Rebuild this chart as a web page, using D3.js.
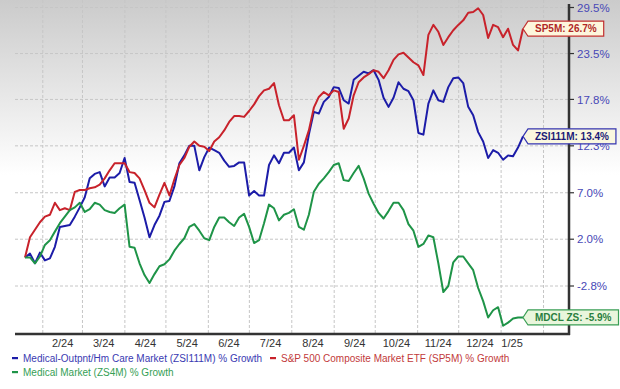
<!DOCTYPE html>
<html>
<head>
<meta charset="utf-8">
<script src="https://cdn.jsdelivr.net/npm/d3@7"></script>
<style>
  body { margin: 0; background: #fff; }
  svg { display: block; }
  text { font-family: Arial, "Liberation Sans", sans-serif; }
</style>
</head>
<body>
<svg id="chart" width="620" height="389"></svg>
<script>
// % growth, sampled evenly from 2024-01-19 to 2025-01-17
const sp5m = [0.1, 2.2, 3.0, 3.8, 4.4, 4.6, 5.9, 5.1, 5.3, 5.1,
  7.1, 7.3, 7.3, 7.5, 7.6, 7.9, 8.6, 9.5, 10.3, 10.3,
  10.3, 9.3, 9.2, 8.6, 7.3, 5.9, 5.4, 6.8, 8.1, 6.7,
  8.5, 10.1, 10.9, 12.2, 12.8, 12.3, 12.2, 11.7, 12.8, 13.3,
  14.1, 15.1, 15.8, 15.8, 15.7, 16.4, 17.2, 18.2, 18.9, 19.1,
  19.8, 17.1, 15.3, 15.3, 15.9, 10.7, 12.3, 14.1, 16.8, 18.1,
  18.7, 18.3, 18.9, 18.7, 14.3, 15.5, 18.3, 19.9, 20.5, 20.9,
  21.4, 21.2, 20.4, 21.4, 22.7, 23.4, 23.6, 23.0, 22.4, 22.0,
  20.8, 25.9, 27.2, 26.3, 24.6, 25.6, 26.5, 27.2, 27.8, 28.8,
  28.9, 29.4, 28.5, 25.5, 27.2, 26.9, 25.6, 26.7, 24.6, 23.9, 26.7];

const zsi111m = [0.1, 0.5, -0.5, 0.6, -0.2, 0.0, 1.2, 3.3, 3.4, 3.5,
  4.4, 5.4, 6.5, 8.6, 9.1, 9.3, 7.7, 8.7, 8.7, 9.2,
  10.9, 8.2, 8.1, 6.2, 4.3, 2.2, 3.5, 4.5, 6.0, 6.1,
  7.7, 10.3, 11.2, 12.3, 12.3, 9.5, 11.0, 12.1, 11.8, 11.5,
  10.6, 9.9, 10.0, 10.4, 10.4, 6.7, 7.2, 6.7, 6.7, 10.1,
  11.2, 10.3, 11.5, 11.5, 12.1, 9.5, 10.4, 13.6, 16.3, 16.1,
  17.5, 18.1, 19.3, 19.2, 17.7, 17.3, 20.2, 20.7, 21.2, 21.0,
  21.4, 20.2, 18.0, 16.9, 18.0, 19.9, 19.1, 18.8, 17.7, 13.8,
  13.6, 17.3, 18.9, 17.7, 17.5, 19.3, 20.4, 20.5, 19.8, 16.9,
  15.9, 13.9, 12.8, 10.9, 11.8, 11.5, 10.7, 11.2, 11.1, 12.1, 13.4];

const zs4m = [0.1, 0.1, -0.5, 0.2, 1.4, 1.9, 2.8, 3.7, 4.4, 5.1,
  5.4, 5.9, 4.9, 5.2, 5.9, 5.7, 5.1, 4.9, 4.8, 5.3,
  5.7, 1.2, 1.1, -0.5, -1.7, -2.5, -1.6, -0.8, -0.6, -0.1,
  0.8, 1.5, 2.1, 3.3, 3.6, 2.9, 2.1, 1.9, 3.3, 4.3,
  4.3, 3.8, 3.4, 4.3, 4.7, 3.3, 1.6, 1.9, 3.7, 5.7,
  5.3, 4.0, 4.6, 4.8, 5.2, 3.3, 3.0, 4.6, 7.1, 8.0,
  8.6, 9.3, 10.1, 10.3, 8.4, 8.3, 9.2, 10.0, 8.6, 6.9,
  5.8, 4.8, 4.2, 5.0, 5.9, 5.9, 5.1, 3.6, 2.9, 1.2,
  1.5, 2.4, 2.2, -0.5, -3.4, -2.8, -0.4, 0.2, 0.2, -0.5,
  -1.2, -3.0, -4.3, -5.9, -5.2, -4.9, -6.7, -6.4, -6.0, -5.9, -5.9];

const yTicks = [29.5, 23.5, 17.8, 12.3, 7.0, 2.0, -2.8];
const yTickLabels = ["29.5%", "23.5%", "17.8%", "12.3%", "7.0%", "2.0%", "-2.8%"];
const monthLabels = ["2/24", "3/24", "4/24", "5/24", "6/24", "7/24", "8/24",
  "9/24", "10/24", "11/24", "12/24", "1/25"];

const startDate = new Date(2024, 0, 19);
const endDate = new Date(2025, 0, 17);

const series = [
  { key: "ZSI111M", name: "Medical-Outpnt/Hm Care Market (ZSI111M) % Growth", tag: "ZSI111M: 13.4%",
    values: zsi111m, color: "#1c1ca8", text: "#3a3ab2", tagText: "#1b1b78", tagFill: "#faf7df", tagStroke: "#3434b0" },
  { key: "SP5M", name: "S&P 500 Composite Market ETF (SP5M) % Growth", tag: "SP5M: 26.7%",
    values: sp5m, color: "#c8222b", text: "#c23a3a", tagText: "#b02828", tagFill: "#fdf6dc", tagStroke: "#c23030" },
  { key: "ZS4M", name: "Medical Market (ZS4M) % Growth", tag: "MDCL ZS: -5.9%",
    values: zs4m, color: "#1f9448", text: "#35a055", tagText: "#2a7f40", tagFill: "#e9f6dc", tagStroke: "#3a9e55" }
];

const svg = d3.select('#chart');
const plotLeft = 15, plotRight = 569, plotBottom = 334;

// background fade at the top
const defs = svg.append('defs');
const grad = defs.append('linearGradient').attr('id', 'bg').attr('x1', 0).attr('y1', 0).attr('x2', 0).attr('y2', 1);
grad.append('stop').attr('offset', '0%').attr('stop-color', '#cbcbcb');
grad.append('stop').attr('offset', '100%').attr('stop-color', '#ffffff');
svg.append('rect').attr('width', 620).attr('height', 175).attr('fill', 'url(#bg)');

const x = d3.scaleTime().domain([startDate, endDate]).range([25, 523]);
const n = sp5m.length;
const dateAt = d3.scaleLinear().domain([0, n - 1]).range([startDate.getTime(), endDate.getTime()]);
const y = d3.scaleLog().domain([0.972, 1.295]).range([286, 7.5]);
const yv = g => y(1 + g / 100);

// gridlines
const months = d3.timeMonth.range(new Date(2024, 1, 1), new Date(2025, 1, 2));
svg.append('g').selectAll('line')
  .data(months)
  .enter().append('line')
  .attr('x1', d => x(d)).attr('x2', d => x(d))
  .attr('y1', 0).attr('y2', plotBottom)
  .attr('stroke', '#c6c6c6').attr('stroke-dasharray', '3,2');

svg.append('g').selectAll('line')
  .data(yTicks)
  .enter().append('line')
  .attr('x1', plotLeft).attr('x2', plotRight)
  .attr('y1', d => yv(d)).attr('y2', d => yv(d))
  .attr('stroke', '#c6c6c6').attr('stroke-dasharray', '3,2');

// lines
const line = d3.line()
  .x((d, i) => x(new Date(dateAt(i))))
  .y(d => yv(d));

svg.append('g').selectAll('path')
  .data(series)
  .enter().append('path')
  .attr('d', d => line(d.values))
  .attr('fill', 'none')
  .attr('stroke', d => d.color)
  .attr('stroke-width', 2)
  .attr('stroke-linejoin', 'round');

// frame
svg.append('line').attr('x1', plotLeft).attr('x2', plotRight + 1)
  .attr('y1', plotBottom).attr('y2', plotBottom)
  .attr('stroke', '#333').attr('stroke-width', 2.5);
svg.append('line').attr('x1', plotRight).attr('x2', plotRight)
  .attr('y1', 4).attr('y2', plotBottom + 1)
  .attr('stroke', '#333').attr('stroke-width', 2.5);

// right axis ticks + labels
const yAxis = svg.append('g');
yAxis.selectAll('line')
  .data(yTicks)
  .enter().append('line')
  .attr('x1', plotRight).attr('x2', plotRight + 5)
  .attr('y1', d => yv(d)).attr('y2', d => yv(d))
  .attr('stroke', '#333').attr('stroke-width', 1.2);
yAxis.selectAll('text')
  .data(yTicks)
  .enter().append('text')
  .attr('x', 577).attr('y', d => yv(d)).attr('dy', '0.36em')
  .attr('font-size', '11.5px').attr('fill', '#4848b6')
  .text((d, i) => yTickLabels[i]);

// month labels, centred on the part of each month that has data
svg.append('g').selectAll('text')
  .data(monthLabels)
  .enter().append('text')
  .attr('x', (d, i) => {
    const a = Math.max(x(months[i]), x(startDate));
    const b = Math.min(x(months[i + 1]), x(endDate));
    return (a + b) / 2;
  })
  .attr('y', 347)
  .attr('text-anchor', 'middle')
  .attr('font-size', '11px').attr('fill', '#333')
  .text(d => d);

// end tags
series.forEach(s => {
  const last = s.values[s.values.length - 1];
  const tipX = x(endDate), cy = yv(last);
  const g = svg.append('g');
  const t = g.append('text')
    .attr('x', tipX + 12).attr('y', cy).attr('dy', '0.36em')
    .attr('font-size', '10px').attr('font-weight', 'bold')
    .attr('fill', s.tagText).text(s.tag);
  const w = t.node().getComputedTextLength();
  const bx = tipX + 5, right = tipX + 12 + w + 7, top = cy - 7.5, bot = cy + 7.5;
  g.insert('path', 'text')
    .attr('d', `M${tipX},${cy}L${bx},${top}L${right},${top}L${right},${bot}L${bx},${bot}Z`)
    .attr('fill', s.tagFill).attr('stroke', s.tagStroke).attr('stroke-width', 1.2);
});

// legend
const legendRows = [
  { s: series[0], x: 12, y: 358 },
  { s: series[1], x: 270, y: 358 },
  { s: series[2], x: 12, y: 372 }
];
const legend = svg.append('g');
legendRows.forEach(r => {
  legend.append('rect')
    .attr('x', r.x).attr('y', r.y - 1).attr('width', 6).attr('height', 2.2)
    .attr('fill', r.s.color);
  legend.append('text')
    .attr('x', r.x + 11).attr('y', r.y).attr('dy', '0.36em')
    .attr('font-size', '10px').attr('fill', r.s.text)
    .text(r.s.name);
});
</script>
</body>
</html>
